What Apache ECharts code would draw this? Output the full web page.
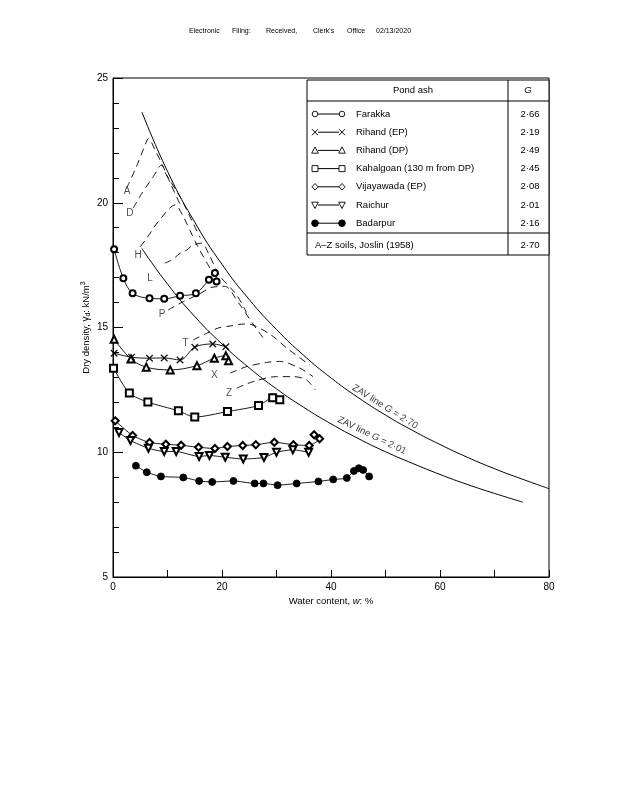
<!DOCTYPE html>
<html><head><meta charset="utf-8">
<script src="https://cdn.jsdelivr.net/npm/echarts@6/dist/echarts.min.js"></script>
<style>html,body{margin:0;padding:0;background:#fff}#c{width:619px;height:800px}</style>
</head><body><div id="c"></div>
<script>
// ---- data (water content %, dry density kN/m3) ----
const farakka = [[0.2,18.14],[1.9,16.97],[3.6,16.37],[6.7,16.17],[9.4,16.15],[12.3,16.27],[15.2,16.37],[17.6,16.91],[18.7,17.18],[19.0,16.84]];
const rihandEP = [[0.2,13.97],[3.4,13.81],[6.7,13.77],[9.4,13.78],[12.3,13.70],[15.0,14.21],[18.3,14.34],[20.7,14.23]];
const rihandDP = [[0.2,14.53],[3.3,13.74],[6.1,13.41],[10.5,13.30],[15.4,13.47],[18.6,13.77],[20.7,13.87],[21.2,13.67]];
const kahalgoan = [[0.1,13.37],[3.0,12.37],[6.4,12.01],[12.0,11.66],[15.0,11.41],[21.0,11.63],[26.7,11.87],[29.3,12.18],[30.6,12.10]];
const vijayawada = [[0.4,11.26],[3.6,10.67],[6.7,10.39],[9.7,10.32],[12.5,10.28],[15.7,10.20],[18.7,10.15],[21.0,10.23],[23.8,10.27],[26.2,10.30],[29.6,10.40],[33.1,10.30],[36.0,10.27],[37.9,10.54],[36.9,10.70]];
const raichur = [[1.1,10.79],[3.2,10.47],[6.5,10.16],[9.4,10.03],[11.6,10.03],[15.8,9.83],[17.7,9.87],[20.6,9.80],[23.9,9.73],[27.7,9.79],[30.0,10.00],[33.0,10.10],[35.9,10.00]];
const badarpur = [[4.2,9.46],[6.2,9.20],[8.8,9.03],[12.9,8.99],[15.8,8.85],[18.2,8.81],[22.1,8.85],[26.0,8.75],[27.6,8.75],[30.2,8.68],[33.7,8.75],[37.7,8.83],[40.4,8.91],[42.9,8.97],[44.2,9.25],[45.1,9.36],[45.9,9.29],[47.0,9.03]];

const zav270 = [[5.3,23.64],[10,21.26],[15,19.22],[20,17.53],[25,16.12],[30,14.92],[35,13.88],[40,12.98],[45,12.19],[50,11.49],[55,10.87],[60,10.31],[65,9.80],[70,9.34],[75,8.93],[80,8.54]];
const zav201 = [[5.3,18.17],[10,16.74],[15,15.44],[20,14.34],[25,13.38],[30,12.54],[35,11.80],[40,11.14],[45,10.55],[50,10.02],[55,9.55],[60,9.11],[65,8.71],[70,8.35],[75.2,8.00]];

const joslinA = [[2.5,20.58],[4.3,21.45],[5.9,22.32],[6.5,22.58],[7.7,22.12],[9.2,21.45],[10.7,20.7],[12.4,19.9]];
const joslinD = [[3.7,19.78],[5.3,20.38],[7.4,21.05],[8.9,21.51],[9.8,21.11],[12.3,20.24],[14.7,19.18],[16.0,18.6]];
const joslinH = [[5.0,18.24],[6.2,18.58],[8.3,19.24],[11.4,19.91],[12.9,19.44],[15.4,18.31],[18.0,17.3]];
const joslinL = [[9.5,17.58],[10.8,17.71],[12.3,17.97],[13.5,18.1],[14.7,18.31],[16.3,18.38],[17.5,17.98],[19.5,17.1],[22.7,16.3],[24.5,15.6]];
const joslinP = [[10.1,15.70],[12.9,16.04],[15.5,16.3],[18.0,16.6],[20.5,16.65],[23.0,16.0],[25.5,15.2],[27.5,14.6]];
const joslinT = [[14.7,14.5],[17.2,14.77],[19.3,14.98],[21.5,15.06],[24.0,15.14],[25.7,15.1],[29.0,14.7],[32.1,14.14],[36.1,13.5]];
const joslinX = [[21.5,13.17],[24.5,13.43],[28.2,13.6],[30.6,13.64],[34.3,13.37],[36.7,13.03]];
const joslinZ = [[22.7,12.57],[25.7,12.83],[30.0,13.03],[33.1,13.03],[35.5,12.9],[37.1,12.5]];

const joslinLetters = ['A','D','H','L','P','T','X','Z'];
const joslinLetterPos = [[2.6,20.47],[3.1,19.59],[4.6,17.91],[6.8,16.97],[9.0,15.55],[13.3,14.37],[18.6,13.10],[21.3,12.37]];

const zavNames = ['2·70','2·01'];
const zavLabelPos = [[49.9,11.82],[47.5,10.67]];

const pondAshNames = ['Farakka','Rihand (EP)','Rihand (DP)','Kahalgoan (130 m from DP)','Vijayawada (EP)','Raichur','Badarpur'];
const pondAshG = ['2·66','2·19','2·49','2·45','2·08','2·01','2·16'];
const soilsName = 'A–Z soils, Joslin (1958)';
const soilsG = '2·70';

const xTicks = [0,20,40,60,80];
const yTicks = [5,10,15,20,25];

const headerWords = ['Electronic','Filing:','Received,','Clerk\'s','Office','02/13/2020'];

// ---- styling / construction ----
const FONT = 'Liberation Sans, Arial, sans-serif';
const pondSeries = [farakka, rihandEP, rihandDP, kahalgoan, vijayawada, raichur, badarpur];
const xPath = 'path://M0,1L1,0L5,4L9,0L10,1L6,5L10,9L9,10L5,6L1,10L0,9L4,5Z';
const pondSym = [
  {symbol:'emptyCircle', size:6},
  {symbol:xPath, size:7},
  {symbol:'emptyTriangle', size:7},
  {symbol:'emptyRect', size:7},
  {symbol:'emptyDiamond', size:7},
  {symbol:'emptyTriangle', size:7, rotate:180},
  {symbol:'circle', size:7}
];
const smoothV = [0.35,0.35,0.35,0.25,0.2,0.2,0.2];

const series = [];
pondSeries.forEach((d,i)=>{
  series.push({
    type:'line', name:pondAshNames[i], data:d, smooth:smoothV[i],
    symbol:pondSym[i].symbol, symbolSize:pondSym[i].size, symbolRotate:pondSym[i].rotate||0,
    showAllSymbol:true,
    lineStyle:{color:'#000', width:0.9},
    itemStyle:{color:'#000', borderColor:'#000', borderWidth:i===1?0.3:0.8},
    z:5
  });
});
[zav270, zav201].forEach(d=>{
  series.push({type:'line', data:d, smooth:true, symbol:'none', lineStyle:{color:'#000', width:1}, z:3});
});
[joslinA,joslinD,joslinH,joslinL,joslinP,joslinT,joslinX,joslinZ].forEach(d=>{
  series.push({type:'line', data:d, smooth:0.3, symbol:'none', lineStyle:{color:'#000', width:0.9, type:[7,5]}, z:2});
});
series.push({
  type:'scatter', symbolSize:0, z:6,
  data: joslinLetters.map((t,i)=>({value:joslinLetterPos[i], name:t})),
  label:{show:true, position:'inside', formatter:p=>p.name, color:'#222', fontSize:10, fontFamily:FONT}
});
const zavRot = [-32,-26];
zavNames.forEach((g,i)=>{
  series.push({
    type:'scatter', symbolSize:0, z:6,
    data:[{value:zavLabelPos[i], name:g}],
    label:{show:true, position:'inside', rotate:zavRot[i], color:'#000', fontSize:9.5, fontFamily:FONT,
      formatter:p=>'ZAV line {i|G} = '+p.name, rich:{i:{fontStyle:'italic', fontSize:9.5, fontFamily:FONT}}}
  });
});

// ---- legend table graphics ----
const g = [];
const TL=307, TR=549, TT=80, TB=255, TC=508, HL=101, SL=233;
const line = (x1,y1,x2,y2,w)=>({type:'line', shape:{x1,y1,x2,y2}, style:{stroke:'#000', lineWidth:w||1}});
g.push({type:'rect', shape:{x:TL, y:TT, width:TR-TL, height:TB-TT}, style:{fill:'#fff', stroke:'#000', lineWidth:1}, z:10});
g.push(Object.assign(line(TC,TT,TC,TB),{z:11}));
g.push(Object.assign(line(TL,HL,TR,HL),{z:11}));
g.push(Object.assign(line(TL,SL,TR,SL),{z:11}));
const txt = (text,x,y,opt)=>Object.assign({type:'text', z:12, style:Object.assign({text, x, y, fill:'#000', font:'9.5px '+FONT, textAlign:'left', textVerticalAlign:'middle'}, opt||{})});
g.push(txt('Pond ash', 413, 90.5, {textAlign:'center'}));
g.push(txt('G', 528, 90.5, {textAlign:'center', font:'italic 9.5px '+FONT}));
function symG(k,x,y){
  const st = {fill:'#fff', stroke:'#000', lineWidth:0.9};
  if(k===0) return [{type:'circle', shape:{cx:x,cy:y,r:2.8}, style:st}];
  if(k===1) return [line(x-3,y-3,x+3,y+3,1), line(x-3,y+3,x+3,y-3,1)];
  if(k===2) return [{type:'polygon', shape:{points:[[x,y-3.5],[x+3.3,y+2.8],[x-3.3,y+2.8]]}, style:st}];
  if(k===3) return [{type:'rect', shape:{x:x-3,y:y-3,width:6,height:6}, style:st}];
  if(k===4) return [{type:'polygon', shape:{points:[[x,y-3.3],[x+3,y],[x,y+3.3],[x-3,y]]}, style:st}];
  if(k===5) return [{type:'polygon', shape:{points:[[x,y+3.5],[x+3.3,y-2.8],[x-3.3,y-2.8]]}, style:st}];
  return [{type:'circle', shape:{cx:x,cy:y,r:3.3}, style:{fill:'#000', stroke:'#000'}}];
}
pondAshNames.forEach((n,i)=>{
  const y = 114 + i*18.2;
  g.push(Object.assign(line(318,y,339,y,1),{z:11}));
  symG(i,315,y).concat(symG(i,342,y)).forEach(e=>{e.z=12; g.push(e);});
  g.push(txt(n,356,y));
  g.push(txt(pondAshG[i],530,y,{textAlign:'center'}));
});
g.push(txt(soilsName,315,245.5));
g.push(txt(soilsG,530,245.5,{textAlign:'center'}));
// header
const headerX = [189,232,266,313,347,376];
headerWords.forEach((w,i)=>g.push({type:'text', z:12, style:{text:w, x:headerX[i], y:31, fill:'#000', font:'7px '+FONT, textVerticalAlign:'middle'}}));

const chart = echarts.init(document.getElementById('c'), null, {renderer:'canvas'});
chart.setOption({
  animation:false,
  backgroundColor:'#fff',
  grid:{left:113, top:78, right:70, bottom:223, show:true, borderColor:'#000', borderWidth:1, backgroundColor:'transparent'},
  xAxis:{type:'value', min:0, max:80, interval:10,
    axisLine:{lineStyle:{color:'#000', width:1}},
    axisTick:{inside:true, length:7, lineStyle:{color:'#000'}},
    splitLine:{show:false},
    axisLabel:{color:'#000', fontSize:10, fontFamily:FONT, margin:5, formatter:v=>xTicks.includes(v)?String(v):''},
    name:'Water content, {i|w}: %', nameLocation:'middle', nameGap:19, nameMoveOverlap:false,
    nameTextStyle:{color:'#000', fontSize:9.5, fontFamily:FONT, rich:{i:{fontStyle:'italic', fontSize:9.5, fontFamily:FONT}}}
  },
  yAxis:{type:'value', min:5, max:25, interval:5,
    axisLine:{lineStyle:{color:'#000', width:1}},
    axisTick:{inside:true, length:10, lineStyle:{color:'#000'}},
    minorTick:{show:true, splitNumber:5, length:6, lineStyle:{color:'#000'}},
    splitLine:{show:false},
    axisLabel:{color:'#000', fontSize:10, fontFamily:FONT, margin:5, formatter:v=>yTicks.includes(v)?String(v):''},
    name:'Dry density, {g|γ}{s|d}: kN/m{p|3}', nameLocation:'middle', nameGap:21, nameRotate:90, nameMoveOverlap:false,
    nameTextStyle:{color:'#000', fontSize:9.5, fontFamily:FONT,
      rich:{g:{fontSize:10, fontFamily:FONT}, s:{fontSize:7, fontFamily:FONT, padding:[5,0,0,0]}, p:{fontSize:7, fontFamily:FONT, padding:[0,0,5,0]}}}
  },
  series,
  graphic:g
});
</script>
</body></html>
